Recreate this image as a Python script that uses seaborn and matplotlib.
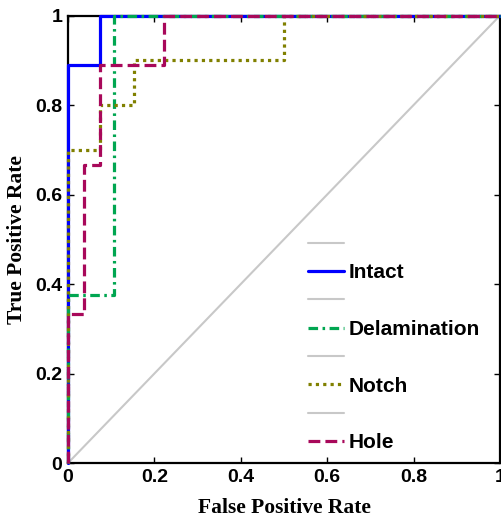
import matplotlib
matplotlib.use("Agg")
import matplotlib.pyplot as plt
import seaborn as sns
import pandas as pd

# ROC curve vertices (false positive rate, true positive rate) for each class
intact_fpr = [0.0, 0.0, 0.074, 0.074, 1.0]
intact_tpr = [0.0, 0.889, 0.889, 1.0, 1.0]

delam_fpr = [0.0, 0.0, 0.107, 0.107, 1.0]
delam_tpr = [0.0, 0.375, 0.375, 1.0, 1.0]

notch_fpr = [0.0, 0.0, 0.074, 0.074, 0.153, 0.153, 0.5, 0.5, 1.0]
notch_tpr = [0.0, 0.7, 0.7, 0.8, 0.8, 0.9, 0.9, 1.0, 1.0]

hole_fpr = [0.0, 0.0, 0.037, 0.037, 0.074, 0.074, 0.222, 0.222, 1.0]
hole_tpr = [0.0, 0.333, 0.333, 0.667, 0.667, 0.889, 0.889, 1.0, 1.0]

chance_fpr = [0.0, 1.0]
chance_tpr = [0.0, 1.0]

class_names = ["Intact", "Delamination", "Notch", "Hole"]
tick_values = [0, 0.2, 0.4, 0.6, 0.8, 1]
tick_labels = ["0", "0.2", "0.4", "0.6", "0.8", "1"]

sns.set_style("white")
plt.rcParams["font.family"] = ["Liberation Sans", "DejaVu Sans"]
plt.rcParams["text.color"] = "black"
plt.rcParams["axes.labelcolor"] = "black"
plt.rcParams["xtick.color"] = "black"
plt.rcParams["ytick.color"] = "black"

fig = plt.figure(figsize=(5.02, 5.17), dpi=100)
ax = fig.add_axes([0.1355, 0.1044, 0.8605, 0.8656])

styles = {
    "Intact": dict(color="#0000FF", linestyle="-"),
    "Delamination": dict(color="#00A651", linestyle=(0, (3.0, 1.4, 0.8, 1.4))),
    "Notch": dict(color="#808000", linestyle=(0, (1.0, 1.3))),
    "Hole": dict(color="#A8085A", linestyle=(0, (3.7, 1.6))),
}
curves = {
    "Intact": (intact_fpr, intact_tpr),
    "Delamination": (delam_fpr, delam_tpr),
    "Notch": (notch_fpr, notch_tpr),
    "Hole": (hole_fpr, hole_tpr),
}

# chance diagonal
sns.lineplot(x=chance_fpr, y=chance_tpr, ax=ax, color="#C8C8C8", linewidth=1.5,
             estimator=None, sort=False)
diag_line = ax.get_lines()[-1]

handles = []
for name in class_names:
    fpr, tpr = curves[name]
    df = pd.DataFrame({"fpr": fpr, "tpr": tpr})
    sns.lineplot(data=df, x="fpr", y="tpr", ax=ax, estimator=None, sort=False,
                 linewidth=2.3, **styles[name])
    line = ax.get_lines()[-1]
    line.set_clip_on(False)
    line.set_zorder(3)
    handles.extend([diag_line, line])

labels = []
for name in class_names:
    labels.extend(["", name])

leg = ax.legend(handles, labels, loc="upper left", bbox_to_anchor=(0.555, 0.51),
                frameon=False, borderpad=0, borderaxespad=0, handlelength=1.75,
                handletextpad=0.2, labelspacing=0.45,
                prop={"family": "Liberation Sans", "weight": "bold", "size": 15})
for t in leg.get_texts():
    t.set_color("black")

ax.set_xlim(0, 1)
ax.set_ylim(0, 1)
ax.set_xticks(tick_values)
ax.set_yticks(tick_values)
ax.set_xticklabels(tick_labels, fontsize=14, fontweight="bold")
ax.set_yticklabels(tick_labels, fontsize=14, fontweight="bold")
ax.tick_params(direction="in", length=4, width=1, top=True, right=True,
               bottom=True, left=True, pad=4, colors="black")
for sp in ax.spines.values():
    sp.set_visible(True)
    sp.set_color("black")
    sp.set_linewidth(1.6)

ax.set_xlabel("False Positive Rate", family="Liberation Serif", fontweight="bold",
              fontsize=15.5, labelpad=9)
ax.set_ylabel("True Positive Rate", family="Liberation Serif", fontweight="bold",
              fontsize=15.5, labelpad=6)

fig.savefig("out.png", dpi=100)
